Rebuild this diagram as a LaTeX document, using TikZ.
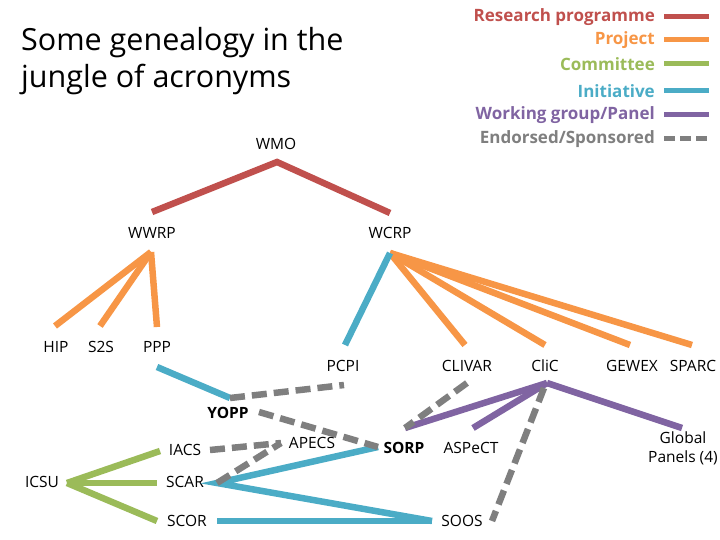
\documentclass[tikz,border=0pt]{standalone}
\usepackage{fontspec}
\setmainfont{Open Sans}
\definecolor{cred}{HTML}{C0504D}
\definecolor{corange}{HTML}{F79646}
\definecolor{cgreen}{HTML}{9BBB59}
\definecolor{cblue}{HTML}{4BACC6}
\definecolor{cpurple}{HTML}{8064A2}
\definecolor{cgrey}{HTML}{7F7F7F}
\begin{document}
\begin{tikzpicture}[x=1pt,y=-1pt,
  lbl/.style={inner sep=0pt,font=\fontsize{15.5}{18}\selectfont},
  blbl/.style={lbl,font=\fontsize{15.5}{18}\selectfont\bfseries},
  leg/.style={inner sep=0pt,anchor=east,font=\fontsize{17}{20}\selectfont\bfseries},
  conn/.style={line width=6.5pt},
  research/.style={conn,cred},
  project/.style={conn,corange},
  committee/.style={conn,cgreen},
  initiative/.style={conn,cblue},
  wgroup/.style={conn,cpurple},
  endorsed/.style={conn,cgrey,dash pattern=on 15pt off 7pt}]
\useasboundingbox (0,0) rectangle (720,540);
% title
\node[anchor=west,inner sep=0pt,font=\fontsize{30.5}{37}\selectfont,align=left] (title) at (21,61) {Some genealogy in the\\jungle of acronyms};
% legend
\node[leg,text=cred] (l1) at (655,17) {Research programme};
\node[leg,text=corange] (l2) at (655,40) {Project};
\node[leg,text=cgreen] (l3) at (655,64) {Committee};
\node[leg,text=cblue] (l4) at (655,91) {Initiative};
\node[leg,text=cpurple] (l5) at (655,115) {Working group/Panel};
\node[leg,text=cgrey] (l6) at (655,139) {Endorsed/Sponsored};
\foreach \n/\s/\y in {1/research/17,2/project/40,3/committee/64,4/initiative/91,5/wgroup/115}{
  \coordinate (la\n) at (664,\y); \coordinate (lb\n) at (709,\y);
  \draw[\s,line width=5pt] (la\n) -- (lb\n);}
\coordinate (la6) at (664,139); \coordinate (lb6) at (709,139);
\draw[cgrey,line width=5pt,dash pattern=on 11pt off 5pt] (la6) -- (lb6);
% nodes
\node[lbl] (wmo) at (276,144) {WMO};
\node[lbl] (wwrp) at (152,233) {WWRP};
\node[lbl] (wcrp) at (390,233) {WCRP};
\node[lbl] (hip) at (56,347) {HIP};
\node[lbl] (s2s) at (101,347) {S2S};
\node[lbl] (ppp) at (157,347) {PPP};
\node[lbl] (pcpi) at (343,366) {PCPI};
\node[lbl] (clivar) at (467,366) {CLIVAR};
\node[lbl] (clic) at (545,366) {CliC};
\node[lbl] (gewex) at (632,366) {GEWEX};
\node[lbl] (sparc) at (693,366) {SPARC};
\node[blbl] (yopp) at (228,413) {YOPP};
\node[lbl] (iacs) at (185,450) {IACS};
\node[lbl] (apecs) at (312,443) {APECS};
\node[blbl] (sorp) at (404,448) {SORP};
\node[lbl] (aspect) at (471,448) {ASPeCT};
\node[lbl,align=center,font=\fontsize{15.5}{19}\selectfont] (global) at (683,448) {Global\\Panels (4)};
\node[lbl] (icsu) at (42,482) {ICSU};
\node[lbl] (scar) at (185,482) {SCAR};
\node[lbl] (scor) at (187,521) {SCOR};
\node[lbl] (soos) at (462,521) {SOOS};
% connector end points
\coordinate (wmo-b) at (277,162);
\coordinate (wwrp-t) at (152,212);
\coordinate (wcrp-t) at (390,213);
\coordinate (wwrp-b) at (151,252);
\coordinate (hip-t) at (55,326);
\coordinate (s2s-t) at (100,326);
\coordinate (ppp-t) at (157,327);
\coordinate (wcrp-b) at (390,253);
\coordinate (pcpi-t) at (345,345);
\coordinate (clivar-t) at (465,345);
\coordinate (clic-t) at (545,345);
\coordinate (gewex-t) at (630,345);
\coordinate (sparc-t) at (692,345);
\coordinate (ppp-b) at (157,367);
\coordinate (yopp-t) at (230,398);
\coordinate (pcpi-b) at (344,385);
\coordinate (yopp-e) at (259,412);
\coordinate (sorp-w) at (378,447);
\coordinate (iacs-e) at (210,450);
\coordinate (apecs-w) at (281,443);
\coordinate (scar-e) at (217,483);
\coordinate (soos-w) at (432,521);
\coordinate (scor-e) at (217,521);
\coordinate (icsu-e) at (67,483);
\coordinate (iacs-w) at (160,451);
\coordinate (scar-w) at (157,483);
\coordinate (scor-w) at (157,521);
\coordinate (clic-b) at (547,383);
\coordinate (sorp-t) at (405,428);
\coordinate (aspect-t) at (473,428);
\coordinate (global-t) at (682,428);
\coordinate (clivar-b) at (467,383);
\coordinate (clic-b2) at (544,388);
\coordinate (soos-e) at (492,521);
% research programme
\draw[research] (wwrp-t) -- (wmo-b) -- (wcrp-t);
% projects
\draw[project] (wwrp-b) -- (hip-t);
\draw[project] (wwrp-b) -- (s2s-t);
\draw[project] (wwrp-b) -- (ppp-t);
\draw[project] (wcrp-b) -- (clivar-t);
\draw[project] (wcrp-b) -- (clic-t);
\draw[project] (wcrp-b) -- (gewex-t);
\draw[project] (wcrp-b) -- (sparc-t);
% initiatives
\draw[initiative] (wcrp-b) -- (pcpi-t);
\draw[initiative] (ppp-b) -- (yopp-t);
\draw[initiative] (sorp-w) -- (scar-e) -- (soos-w);
\draw[initiative] (scor-e) -- (soos-w);
% committees
\draw[committee] (icsu-e) -- (iacs-w);
\draw[committee] (icsu-e) -- (scar-w);
\draw[committee] (icsu-e) -- (scor-w);
% working groups
\draw[wgroup] (sorp-t) -- (clic-b);
\draw[wgroup] (aspect-t) -- (clic-b);
\draw[wgroup] (clic-b) -- (global-t);
% endorsed
\draw[endorsed] (yopp-t) -- (pcpi-b);
\draw[endorsed] (yopp-e) -- (sorp-w);
\draw[endorsed] (iacs-e) -- (apecs-w);
\draw[endorsed] (scar-e) -- (apecs-w);
\draw[endorsed] (clivar-b) -- (sorp-t);
\draw[endorsed] (clic-b2) -- (soos-e);
\end{tikzpicture}
\end{document}
